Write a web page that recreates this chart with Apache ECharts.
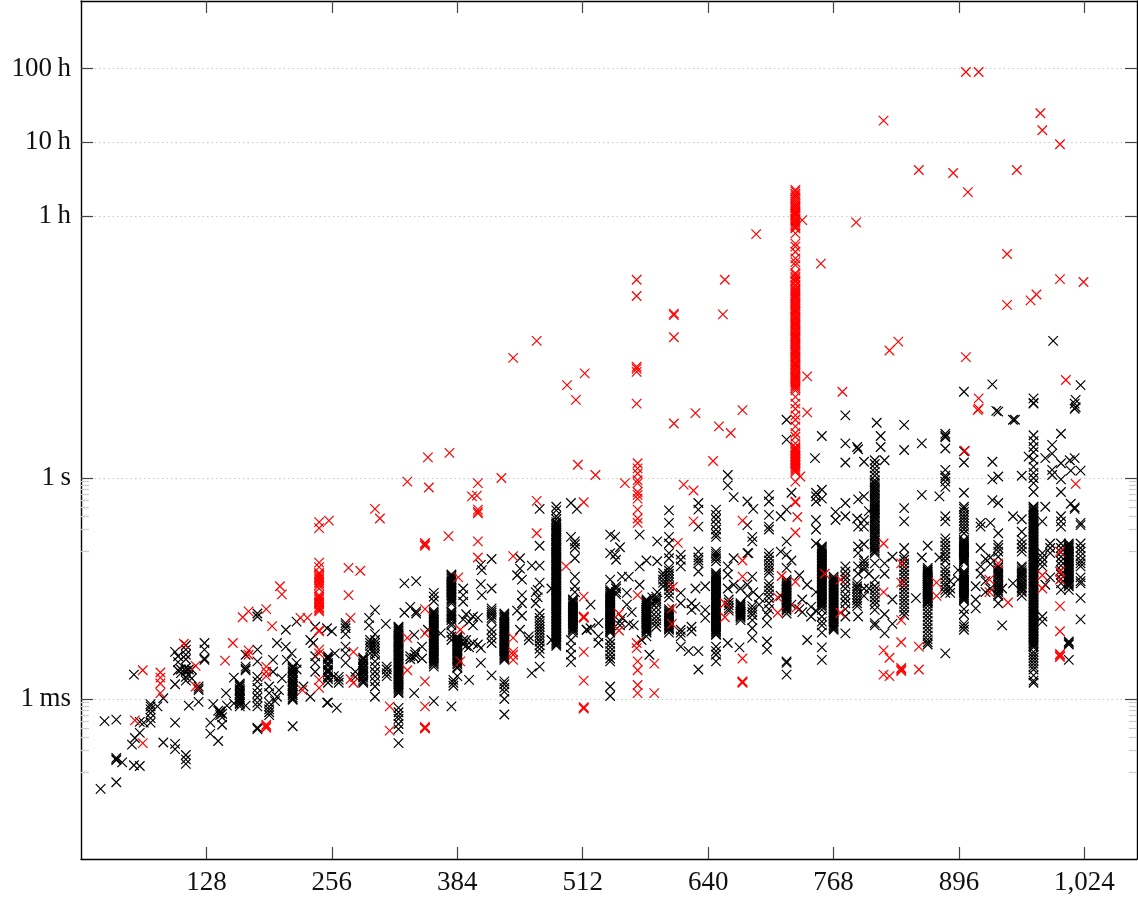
<!DOCTYPE html>
<html><head><meta charset="utf-8">
<style>html,body{margin:0;padding:0;background:#fff}#c{width:1138px;height:903px}</style>
<script src="https://cdn.jsdelivr.net/npm/echarts@6/dist/echarts.min.js"></script></head>
<body><div id="c"></div>
<script>
// each row: block size n, then log10(seconds) of each measured run
const blackRows = [
[20,-4.22],[24,-3.3],[36,-4.13,-3.28,-3.82,-3.8,-3.83],[42,-3.86],[52,-3.62],[54,-3.9,-2.67],[55,-3.53],[60,-3.91,-3.46,-3.31],[64,-3.32],
[71,-3.32,-3.07,-3.1,-3.14,-3.19,-3.26],[78,-3.1],[84,-2.99,-3.59],[96,-3.32,-3.61,-3.68,-2.8,-2.36],[99,-2.61,-2.5,-2.42],[102,-2.6,-2.65],
[107,-3.76,-3.82,-3.88,-2.27,-2.33,-2.4,-2.46,-2.58,-2.62,-2.7,-2.75],[110,-3.09,-2.6,-2.68],[113,-2.6,-2.72],[120,-3.04,-2.83,-2.86,-2.88],[126,-2.24,-2.33,-2.47,-2.45],
[132,-3.32,-3.47],[135,-3.07],[140,-3.57,-3.16],[142,-3.17,-3.19,-3.22],[144,-3.35,-3.25,-3.2],[148,-2.92],[149,-3.09],[156,-2.71,-3.06],
[162,-2.79,-2.83,-2.86,-2.89,-2.92,-2.95,-2.98,-3.01,-3.04,-3.07,-3.1],[168,-3.09,-2.4,-2.56,-2.59,-2.61],[180,-1.84,-1.88,-2.33,-2.49,-2.7,-2.76,-2.85,-2.92,-2.98,-3.05,-3.1,-3.41,-3.39],
[192,-2.83,-2.92,-3.05,-3.1,-3.14,-3.18,-3.22],[196,-2.47,-2.63],[198,-3.03],[200,-2.24,-2.97],[202,-2.88],[205,-2.72],[209,-2.06,-2.29],[210,-2.47],[215,-2.38],
[216,-3.37,-2.56,-2.59,-2.62,-2.65,-2.68,-2.71,-2.74,-2.77,-2.8,-2.83,-2.86,-2.89,-2.92,-2.95,-2.98,-3.01],[220,-1.95,-2.51,-2.6],[227,-2.83],[234,-2.97,-2.2],[237,-2.24],[239,-2.02,-2.42,-2.51,-2.63],
[251,-2.04,-3.05],[252,-2.42,-2.46,-2.51,-2.55,-2.6,-2.64,-2.69,-2.73,-2.78,-3.05],[256,-2.08],[259,-2.38],[258,-2.69],[261,-3.12],[263,-2.7,-2.74,-2.78],
[270,-1.97,-2.0,-2.04,-2.12,-2.29,-2.38,-2.51],[280,-2.63,-2.7],[288,-2.44,-2.47,-2.5,-2.53,-2.56,-2.59,-2.62,-2.65,-2.68,-2.71,-2.74,-2.78],[294,-1.9,-2.0],
[295,-2.2,-2.24,-2.28,-2.32,-2.38],[300,-1.79,-2.12,-2.2,-2.24,-2.28,-2.32,-2.36,-2.4,-2.49,-2.56,-2.63,-2.69,-2.76,-2.83,-2.97],[311,-1.98],[312,-2.56,-2.6,-2.65,-2.69],
[324,-2.02,-2.05,-2.09,-2.12,-2.16,-2.2,-2.23,-2.27,-2.31,-2.34,-2.38,-2.41,-2.45,-2.49,-2.52,-2.56,-2.6,-2.63,-2.67,-2.71,-2.74,-2.78,-2.82,-2.85,-2.89,-2.92,-3.12,-3.18,-3.23,-3.27,-3.34,-3.41,-3.6],
[330,-1.43,-1.83],[336,-1.75,-2.42,-2.46],[340,-2.13,-2.92,-2.44],[341,-2.4,-2.36],[342,-1.4,-1.81,-1.84],[348,-2.29,-2.45],[354,-2.06],
[360,-1.56,-1.61,-1.67,-3.03,-1.81,-1.85,-1.89,-1.93,-1.97,-2.01,-2.05,-2.08,-2.11,-2.15,-2.19,-2.23,-2.27,-2.31,-2.35,-2.39,-2.43,-2.47,-2.51,-2.56],[367,-2.11],
[378,-3.1,-1.31,-1.35,-1.39,-1.43,-1.47,-1.51,-1.55,-1.59,-1.63,-1.67,-1.7,-1.81,-1.85,-1.89,-1.93,-1.97,-2.0,-2.1,-2.15,-2.2],
[384,-2.15,-2.18,-2.22,-2.26,-2.3,-2.33,-2.37,-2.41,-2.45,-2.49,-2.53,-2.56,-2.58,-2.69],[380,-2.74,-2.78,-2.82],[390,-1.5,-1.59,-1.68,-1.92,-2.2,-2.26],[393,-1.85,-2.2,-2.28],[396,-2.74,-1.95,-2.3],[400,-1.88,-2.0,-2.24],[405,-1.9,-2.26],[408,-2.31,-2.51,-1.18,-1.44],[409,-1.25,-1.59],
[419,-1.1,-1.5,-1.77,-1.8,-1.83,-1.86,-1.9,-1.93,-2.06,-2.12,-2.18,-2.24,-2.68],
[432,-1.84,-1.88,-1.91,-1.95,-1.98,-2.02,-2.06,-2.09,-2.13,-2.17,-2.2,-2.24,-2.28,-2.31,-2.35,-2.39,-2.43,-2.47,-2.76,-2.8,-2.85,-2.9,-3.0,-3.21],
[445,-1.32,-1.8],[448,-1.09,-1.23,-2.06],[450,-1.38,-1.59,-1.7,-1.87],[457,-2.2,-2.15],[460,-2.65,-1.19],[464,-1.55,-1.7],[466,-1.52,-1.62],
[468,-2.56,-.42,-.92,-1.19,-1.42,-1.84,-1.9,-1.94,-1.98,-2.02,-2.06,-2.1,-2.14,-2.18,-2.22,-2.27,-2.32,-2.38],[480,-1.5,-2.2],
[485,-.39,-.44,-.52,-.56,-.6,-.63,-.67,-.7,-.74,-.77,-.81,-.84,-.88,-.91,-.95,-.98,-1.02,-1.05,-1.09,-1.12,-1.16,-1.19,-1.23,-1.27,-1.3,-1.34,-1.37,-1.41,-1.44,-1.48,-1.51,-1.55,-1.58,-1.62,-1.65,-1.69,-1.72,-1.76,-1.8,-1.84,-1.88,-1.92,-1.96,-2.0,-2.04,-2.08,-2.12,-2.16,-2.2,-2.24,-2.28],
[500,-.34,-.8,-2.2,-2.3,-2.4,-2.5],[502,-1.65,-1.69,-1.73,-1.77,-1.81,-1.85,-1.89,-1.93,-1.97,-2.01,-2.05,-2.1],[504,-.86,-.9,-.95,-1.09,-1.34,-1.47,-1.55],[506,-.42],[516,-2.06,-2.06],[520,-1.72,-2.04],[528,-1.97,-2.15,-2.24],
[540,-.77,-1.02,-1.38,-1.52,-1.55,-1.58,-1.61,-1.64,-1.67,-1.7,-1.73,-1.76,-1.79,-1.82,-1.85,-1.88,-1.91,-1.94,-1.97,-2.0,-2.03,-2.06,-2.1,-2.2,-2.25,-2.3,-2.35,-2.4,-2.45,-2.49,-2.83,-2.96],[545,-.8,-1.04],[546,-1.11,-1.47,-1.5,-1.55,-1.58],[550,-.94,-1.95,-2.0],[552,-1.34,-1.9],[557,-1.56,-1.72],[559,-1.34,-1.98],[562,-1.82],[564,-2.0],
[570,-.77,-1.2,-1.45],[572,-2.2],[577,-1.12,-1.65,-1.68,-1.71,-1.74,-1.77,-1.8,-1.83,-1.86,-1.89,-1.92,-1.95,-1.98,-2.01,-2.04,-2.07,-2.1,-2.15],[580,-2.4],[583,-1.62,-1.7],[587,-1.61,-1.64,-1.67,-1.7,-1.76,-1.82,-1.88,-1.93,-1.97,-2.02],[588,-.86,-1.13,-1.55],
[594,-1.29,-1.33,-1.38,-1.42,-1.47],[600,-.44,-.61,-.8,-.89,-1.02,-1.09,-1.22,-1.26,-1.3,-1.34,-1.38,-1.42,-1.47,-1.52,-1.57,-1.62,-1.78,-1.82,-1.86,-1.9,-1.94,-1.98,-2.02,-2.06,-2.1],
[612,-1.04,-1.11,-1.2,-1.56,-1.7,-2.06,-2.1,-2.15,-2.29],[620,-2.35],[623,-1.7,-1.79,-2.02,-2.08],[627,-1.5,-1.75],[630,-.34,-.43,-.66,-1.0,-1.16,-1.27,-2.35,-2.6,-1.08,-1.12],[637,-1.47,-1.79,-1.9],
[648,-.43,-.5,-.56,-.63,-.7,-.76,-.8,-1.0,-1.03,-1.06,-1.09,-1.13,-1.29,-1.33,-1.36,-1.4,-1.43,-1.47,-1.5,-1.54,-1.57,-1.61,-1.64,-1.68,-1.71,-1.75,-1.78,-1.82,-1.85,-1.89,-1.92,-1.96,-1.99,-2.03,-2.06,-2.1,-2.13,-2.29,-2.35,-2.4,-2.49],
[660,.04,-.1,-1.2,-1.31,-2.24,-1.5],[661,-1.65,-1.69,-1.73,-1.77,-1.8],[666,-.26,-1.09,-1.45],[673,-1.7,-1.73,-1.76,-1.79,-1.82,-1.85,-1.88,-1.93,-1.5],[672,-2.3],[680,-.32,-.64,-1.02,-1.45,-1.6],[681,-1.02],[685,-.8,-.86,-1.34,-1.74,-1.78,-1.82,-1.86,-1.93,-2.04,-2.17],[686,-.42,-1.55],[692,-1.62,-1.72],
[702,-.23,-.32,-.5,-.66,-.7,-1.02,-1.07,-1.12,-1.17,-1.21,-1.25,-1.29,-1.43,-1.48,-1.53,-1.58,-1.63,-1.7,-1.78],[700,-1.97,-2.22,-2.33,-1.85],[714,-.52,-1.0,-1.6],[720,-.43,-.86,-1.04,-1.22,-1.38,-1.42,-1.46,-1.5,-1.54,-1.58,-1.62,-1.66,-1.7,-1.74,-1.78,-1.84,-2.49,-2.51,-2.67,.79,.52],[725,-.2,-1.12,-1.72],[733,-1.32,-1.78],[736,-1.65,-1.82],[741,-2.2,-1.45],[745,-1.75,-1.88],
[749,.27],[750,-.2,-.25,-.32,-.57,-.7,-.89,-1.55,-1.8],[756,.57,-.16,-.28,-.93,-.97,-1.01,-1.05,-1.09,-1.13,-1.17,-1.21,-1.25,-1.29,-1.33,-1.37,-1.41,-1.45,-1.49,-1.53,-1.57,-1.61,-1.65,-1.69,-1.73,-1.79,-1.88,-1.95,-2.0,-2.1,-2.3,-2.47],
[768,-1.34,-1.38,-1.42,-1.46,-1.5,-1.54,-1.58,-1.62,-1.66,-1.7,-1.74,-1.78,-1.82,-1.86,-1.9,-1.94,-1.98,-2.02,-2.06],[770,-.46,-.57],[780,.85,.47,.21,-.34,-.52,-1.2,-1.27,-1.33,-1.38,-1.44,-1.5,-1.58,-1.64,-1.7,-1.78,-1.88,-2.11],
[792,.42,-.55,-1.43,-1.47,-1.5,-1.54,-1.58,-1.62,-1.66,-1.7,-1.74],[793,.39,-.29,-.66,-.93,-1.02,-1.88,-1.2,-1.3],[799,.22,-.25,-.57,-.66,-.9,-1.12,-1.16,-1.2,-1.24,-1.5,-1.6],[804,-.45,-1.3,-1.5],
[810,.24,.19,.13,.08,.03,-.03,-.08,-.13,-.18,-.23,-.28,-.33,-.38,-.42,-.46,-.5,-.55,-.6,-.65,-.7,-.76,-.8,-.85,-.9,-.95,-1.02,-1.16,-1.38,-1.47,-1.52,-1.57,-1.62,-1.67,-1.72,-1.79,-1.97,-2.0],[812,.75],[816,.57,.42],[820,.24,-1.16,-1.3,-1.85,-2.11],[828,-1.07,-1.65,-1.98],
[840,.72,.38,-.41,-.59,-.95,-1.07,-1.11,-1.16,-1.21,-1.26,-1.31,-1.36,-1.41,-1.46,-1.51,-1.56,-1.61,-1.66,-1.71,-1.76,-1.81,-1.86],[852,-1.63],[858,.47,-.23,-1.08],
[864,-.92,-1.22,-1.25,-1.28,-1.31,-1.34,-1.37,-1.4,-1.43,-1.46,-1.49,-1.52,-1.55,-1.58,-1.61,-1.64,-1.67,-1.7,-1.74,-1.79,-1.84,-1.89,-1.94,-1.99,-2.04,-2.09,-2.14,-2.19,-2.23,-2.26],
[876,-.25,-1.08],[882,.6,.57,.55,.4,.11,.03,0,-.05,-.12,-.52,-.59,-2.38,-.82,-.87,-.92,-.97,-1.02,-1.07,-1.12,-1.22,-1.27,-1.32,-1.37,-1.42,-1.47,-1.52,-1.56],[887,-1.4,-1.56,-1.5],
[901,1.17,.36,.21,-.2,-.39,-.42,-.46,-.5,-.54,-.58,-.62,-.66,-.7,-.75,-.84,-.87,-.9,-.93,-.96,-.99,-1.02,-1.05,-1.08,-1.11,-1.14,-1.27,-1.3,-1.33,-1.36,-1.39,-1.42,-1.45,-1.48,-1.51,-1.54,-1.57,-1.6,-1.63,-1.66,-1.78,-1.85,-1.98,-2.02,-2.06],[895,-1.25,-1.38],
[913,-1.47,-1.65,-1.77],[918,-.61,-.66,-.95,-1.2,-1.3],[923,-1.1,-1.4,-1.55],[928,-.61,-1.08,-1.17,-1.5],[930,1.27,.22,-.02,-.3],[934,.91],[936,.9,.02,-.34,-.75,-.91,-.95,-1.0,-1.07,-1.2,-1.25,-1.3,-1.35,-1.4,-1.45,-1.5,-1.55,-1.6,-1.7],[940,-2.0,-1.5],[951,.79,-.52,-1.43],[953,.79],
[960,.03,-.56,-.73,-.84,-1.2,-1.25,-1.3,-1.35,-1.4,-1.45,-1.5,-1.55,-1.6,-.9,-.95,-1.0],[967,.29],
[972,1.08,1.02,1.01,.58,.5,.42,.35,.25,.15,.07,0,-.07,-.19,-.39,-.42,-.46,-.5,-.54,-.58,-.62,-.66,-.7,-.74,-.78,-.82,-.86,-.9,-.94,-.98,-1.02,-1.06,-1.1,-1.14,-1.18,-1.22,-1.26,-1.3,-1.34,-1.38,-1.42,-1.46,-1.5,-1.54,-1.58,-1.62,-1.66,-1.7,-1.74,-1.78,-1.82,-1.86,-1.9,-1.94,-1.98,-2.02,-2.06,-2.1,-2.14,-2.18,-2.22,-2.26,-2.3,-2.36,-2.4,-2.44,-2.48,-2.52,-2.56,-2.6,-2.68,-2.75,-2.78],
[981,-.59,-1.02,-1.08,-1.14,-1.2,-1.88,-1.95],[984,-.39,.27,-1.45],[989,-.89,-.95,-1.02,-1.35],[991,.45,.33,.11,.04],[992,1.86],
[1000,.6,.2,-.02,-.19,-.52,-.59,-.66,-.89,-.95,-1.01,-1.07,-1.13,-1.19,-1.25,-1.31,-1.37,-1.43,-1.52],[1008,-2.22,-2.24,-2.26,-2.47,-.89,-.93,-.97,-1.01,-1.05,-1.09,-1.13,-1.17,-1.21,-1.25,-1.29,-1.33,-1.37,-1.41,-1.45,-1.52],[1009,.24],[1010,-.35,.1],[1014,.27,1.01,.94,-.4,-.42],[1015,1.06,.96],[1020,1.26,.1,-.61,-.64,-.89,-.95,-1.0,-1.06,-1.12,-1.16,-1.2,-1.35,-1.4,-1.43,-1.63,-1.92]
];
// further runs inside the dense columns, where the marks merge into solid bars
const blackDense = [
[162,-2.81,-2.88,-2.94,-3.0,-3.06],[216,-2.58,-2.64,-2.7,-2.76,-2.82,-2.88,-2.94,-3.0],[252,-2.44,-2.53,-2.62,-2.71],[288,-2.46,-2.52,-2.58,-2.64,-2.7,-2.76],
[324,-2.03,-2.07,-2.11,-2.14,-2.18,-2.21,-2.25,-2.29,-2.33,-2.36,-2.4,-2.43,-2.47,-2.51,-2.54,-2.58,-2.62,-2.65,-2.69,-2.73,-2.76,-2.8,-2.84,-2.87,-2.91],
[360,-1.83,-1.87,-1.91,-1.95,-1.99,-2.03,-2.07,-2.13,-2.17,-2.21,-2.25,-2.29,-2.33,-2.37,-2.41,-2.45,-2.49,-2.53],[378,-1.33,-1.37,-1.41,-1.45,-1.49,-1.53,-1.57,-1.61,-1.65,-1.83,-1.87,-1.91],
[384,-2.17,-2.2,-2.24,-2.28,-2.32,-2.35,-2.39,-2.43,-2.47,-2.51],[432,-1.86,-1.9,-1.93,-1.97,-2.0,-2.04,-2.08,-2.11,-2.15,-2.19,-2.22,-2.26,-2.3,-2.33,-2.37,-2.41,-2.45],
[485,-.62,-.65,-.69,-.72,-.76,-.79,-.83,-.86,-.9,-.93,-.97,-1.0,-1.04,-1.07,-1.11,-1.14,-1.18,-1.21,-1.25,-1.29,-1.32,-1.36,-1.39,-1.43,-1.46,-1.5,-1.53,-1.57,-1.6,-1.64,-1.67,-1.71,-1.74,-1.78,-1.82,-1.86,-1.9,-1.94,-1.98,-2.02,-2.06,-2.1,-2.14,-2.18,-2.22,-2.26],
[502,-1.67,-1.71,-1.75,-1.79,-1.83,-1.87,-1.91,-1.95,-1.99,-2.03,-2.07],[540,-1.54,-1.57,-1.6,-1.63,-1.66,-1.69,-1.72,-1.75,-1.78,-1.81,-1.84,-1.87,-1.9,-1.93,-1.96,-1.99,-2.02,-2.05,-2.08],
[577,-1.67,-1.7,-1.73,-1.76,-1.79,-1.82,-1.85,-1.88,-1.91,-1.94,-1.97,-2.0,-2.03,-2.06,-2.09],[600,-1.8,-1.84,-1.88,-1.92,-1.96,-2.0,-2.04],
[648,-1.31,-1.35,-1.38,-1.42,-1.45,-1.49,-1.52,-1.56,-1.59,-1.63,-1.66,-1.7,-1.73,-1.77,-1.8,-1.84,-1.87,-1.91,-1.94,-1.98,-2.01,-2.05,-2.08,-2.12],
[673,-1.72,-1.75,-1.78,-1.81,-1.84,-1.87,-1.9],[720,-1.4,-1.44,-1.48,-1.52,-1.56,-1.6,-1.64,-1.68,-1.72,-1.76,-1.8],
[756,-.95,-.99,-1.03,-1.07,-1.11,-1.15,-1.19,-1.23,-1.27,-1.31,-1.35,-1.39,-1.43,-1.47,-1.51,-1.55,-1.59,-1.63,-1.67,-1.71,-1.75],
[768,-1.36,-1.4,-1.44,-1.48,-1.52,-1.56,-1.6,-1.64,-1.68,-1.72,-1.76,-1.8,-1.84,-1.88,-1.92,-1.96,-2.0,-2.04],
[810,-.06,-.11,-.16,-.21,-.26,-.31,-.36,-.4,-.44,-.48,-.53,-.58,-.63,-.68,-.73,-.78,-.83,-.88,-.93,-.98,-1.0],
[864,-1.24,-1.27,-1.3,-1.33,-1.36,-1.39,-1.42,-1.45,-1.48,-1.51,-1.54,-1.57,-1.6,-1.63,-1.66,-1.69],
[901,-.86,-.89,-.92,-.95,-.98,-1.01,-1.04,-1.07,-1.1,-1.13,-1.29,-1.32,-1.35,-1.38,-1.41,-1.44,-1.47,-1.5,-1.53,-1.56,-1.59,-1.62,-1.65],
[936,-1.22,-1.28,-1.33,-1.38,-1.43,-1.48,-1.53,-1.58],[960,-1.22,-1.28,-1.33,-1.38,-1.43,-1.48,-1.53],
[972,-.4,-.44,-.48,-.52,-.56,-.6,-.64,-.68,-.72,-.76,-.8,-.84,-.88,-.92,-.96,-1.0,-1.04,-1.08,-1.12,-1.16,-1.2,-1.24,-1.28,-1.32,-1.36,-1.4,-1.44,-1.48,-1.52,-1.56,-1.6,-1.64,-1.68,-1.72,-1.76,-1.8,-1.84,-1.88,-1.92,-1.96,-2.0,-2.04,-2.08,-2.12,-2.16,-2.2,-2.24,-2.28],
[1008,-.91,-.95,-.99,-1.03,-1.07,-1.11,-1.15,-1.19,-1.23,-1.27,-1.31,-1.35,-1.39,-1.43,-1.47]
];
const redRows = [
[55,-3.29],[63,-2.61,-3.6],[81,-2.64,-2.71,-2.79,-2.92],[105,-2.25],[117,-2.55,-2.83],[147,-2.48],[155,-2.24],[165,-1.89],[171,-1.81,-2.34,-2.4],
[189,-1.78,-2.56,-2.63,-2.69,-3.35,-3.37,-3.39],[195,-2.01],[203,-1.47],[205,-1.58],[224,-1.9],[226,-2.88],[231,-1.9],
[243,-.6,-.68,-1.15,-1.21,-1.29,-1.34,-1.38,-1.43,-1.5,-1.59,-1.63,-1.68,-1.72,-1.77,-1.81,-2.08,-2.07,-2.33,-2.38,-2.74,-2.85],[253,-.58],
[273,-1.22,-1.59],[275,-1.9,-2.73],[278,-2.36,-2.78],[285,-1.26],[300,-.42],[305,-.55],[315,-3.1,-3.43],[333,-.05,-2.17,-2.61],
[351,-.88,-.9,-.92,-1.78,-2.11,-2.76,-3.1,-3.38,-3.39,-3.4],[354,.28],[355,-.13],[375,-.79],[376,.34],[385,-1.35],[387,-2.06,-2.49],[399,-.25],[404,-.24],
[405,-.07,-.43,-.46,-.48,-.86,-1.08],[429,0],[441,1.63,-1.06,-2.17,-2.36,-2.4,-2.47],[465,1.86,-.31,-.75],[495,-1.2],[496,1.26],[505,1.06],[507,.18],
[513,-.33,-1.61,-1.88,-1.89,-1.9,-2.36,-2.75,-3.11,-3.12,-3.13],[514,1.42],[525,.04],[549,-1.84,-2.07],[555,-.07],
[567,2.69,2.47,1.51,1.48,1.44,1.01,-2.24,-2.31],[568,.2,.13,.06,-.03,-.07,-.19,-.23,-.28,-.43,-.55,-.61,-1.59,-2.49,-2.61,-2.81,-2.92],[585,-2.52,-2.92],
[603,-1.77,-1.98],[604,-1.48],[605,2.21,2.23,1.91,.74],[609,-.88],[615,-.09],[625,-.17,-.59],[627,.88],[645,.23],[651,.7],[655,2.22],[657,2.69,-1.7,-1.89],[663,.61],
[675,.92,-.58,-1.12,-1.34,-2.45,-2.76,-2.77,-2.78],[689,3.31],[711,-1.62,-1.83],[715,-1.33],
[729,3.91,3.86,3.81,3.75,3.7,3.66,3.61,3.57,3.52,3.48,3.43,3.39,3.32,3.18,3.14,3.07,2.98,2.93,2.89,2.78,2.73,2.68,2.62,2.57,2.53,2.48,2.44,2.39,2.35,2.3,2.26,2.21,2.17,2.12,2.08,2.03,1.99,1.94,1.9,1.85,1.81,1.76,1.72,1.67,1.63,1.58,1.54,1.49,1.46,1.41,1.37,1.33,1.28,1.24,1.19,1.1,1.01,.94,.85,.79,.7,.61,.56,.47,.4,.36,.32,.28,.24,.2,.16,.12,.08,-.05,-.32,-.33,-.74,-1.41],
[730,-1.76],[731,-.53],[734,.02],[736,3.5],[741,1.38,.89],[755,2.91],[759,-1.3],[775,-1.38,-1.83],[777,1.17],[791,3.47],[819,4.85,-.89,-1.55,-2.34,-2.67],[825,1.73,-2.44,-2.69],[834,1.85],
[837,-1.16,-1.42,-1.93,-2.23,-2.58,-2.6,-2.62],[855,4.18,-2.29,-2.6],[873,-1.42,-1.6],[890,4.14],[902,.37],[903,5.51,1.64],[905,3.88],[915,.92],[916,5.51,1.08,.94],[927,-1.38,-1.55],[936,-1.16],[945,3.04,2.35],[946,-1.69],[955,4.18],
[969,2.41],[975,2.49],[979,4.95],[981,4.72,-1.32,-1.5],[999,4.53,2.7,-1.0,-1.27,-1.38,-1.74,-2.08,-2.39,-2.41,-2.43],[1005,1.33],[1015,-.08],[1023,2.66]
];
const redDense = [
[729,3.89,3.84,3.78,3.72,3.68,3.63,3.59,3.55,3.5,3.46,3.41,2.76,2.71,2.66,2.6,2.55,2.51,2.46,2.42,2.37,2.33,2.28,2.24,2.19,2.15,2.1,2.06,2.01,1.97,1.92,1.88,1.83,1.79,1.74,1.7,1.65,1.61,1.56,1.52,1.47,1.43,1.39,1.35,1.31,1.26,1.22,.42,.38,.34,.3,.26,.22,.18,.14,.1],
[243,-1.31,-1.36,-1.41,-1.46,-1.61,-1.65,-1.7,-1.75,-1.79]
];
const xTicks = [128,256,384,512,640,768,896,1024];
const yTicks = [0.001,1,3600,36000,360000];
const yTickLabels = ['1\u2009ms','1\u2009s','1\u2009h','10\u2009h','100\u2009h'];
const yMinorTicks = [0.0001,0.0002,0.0003,0.0004,0.0005,0.0006,0.0007,0.0008,0.0009,0.1,0.2,0.3,0.4,0.5,0.6,0.7,0.8,0.9];
const xMax = 1077.6, yMin = 6.73e-6, yMax = 2.98e6;

const pts = rows => rows.flatMap(r => r.slice(1).map(e => [r[0], Math.pow(10, e)]));
const cross = 'path://M0 0L10 10M10 0L0 10';
const font = '"Liberation Serif","DejaVu Serif",serif';
const tickStyle = {color:'#444',width:1.2};
const line = {show:true,onZero:false,lineStyle:{color:'#000',width:1.4}};
const rect = {left:81,right:1,top:1,bottom:44};
const xBase = {type:'value',min:0,max:xMax,splitLine:{show:false},axisLine:line,
  axisTick:{show:true,inside:true,length:12,lineStyle:tickStyle,customValues:xTicks}};
const yBase = {type:'log',logBase:10,min:yMin,max:yMax,axisLine:line,
  axisTick:{show:true,inside:true,length:12,lineStyle:tickStyle,customValues:yTicks},axisLabel:{show:false},splitLine:{show:false}};
const yMinor = {...yBase,gridIndex:1,axisLine:{show:false},
  axisTick:{show:true,inside:true,length:8,lineStyle:{color:'#ccc',width:1.2},customValues:yMinorTicks}};
const series = (name,rows,color,z) => ({name,type:'scatter',data:pts(rows),symbol:cross,symbolSize:9.5,z,
  itemStyle:{color:'none',borderColor:color,borderWidth:1.2,opacity:1},emphasis:{disabled:true},animation:false,clip:false});

const chart = echarts.init(document.getElementById('c'),null,{renderer:'canvas'});
chart.setOption({
  animation:false,backgroundColor:'#fff',
  grid:[rect,rect],
  xAxis:[
    {...xBase,position:'bottom',axisLabel:{show:true,customValues:xTicks,margin:10,color:'#111',fontFamily:font,fontSize:27,
      formatter:v=>Math.round(v).toLocaleString('en-US')}},
    {...xBase,position:'top',axisLabel:{show:false}},
    {type:'value',gridIndex:1,min:0,max:xMax,show:false}
  ],
  yAxis:[
    {...yBase,position:'left',
     splitLine:{show:true,lineStyle:{color:'#c8c8c8',type:[1.5,3],width:1}},
     axisLabel:{show:true,customValues:yTicks,margin:10,color:'#111',fontFamily:font,fontSize:27,
      formatter:v=>{let b=0;yTicks.forEach((t,i)=>{if(Math.abs(Math.log10(t/v))<Math.abs(Math.log10(yTicks[b]/v)))b=i;});return yTickLabels[b];}}},
    {...yBase,position:'right'},
    {...yMinor,position:'left'},
    {...yMinor,position:'right'}
  ],
  series:[series('black',blackRows.concat(blackDense),'#000',3),series('red',redRows.concat(redDense),'#ff0000',4)]
});
</script></body></html>
